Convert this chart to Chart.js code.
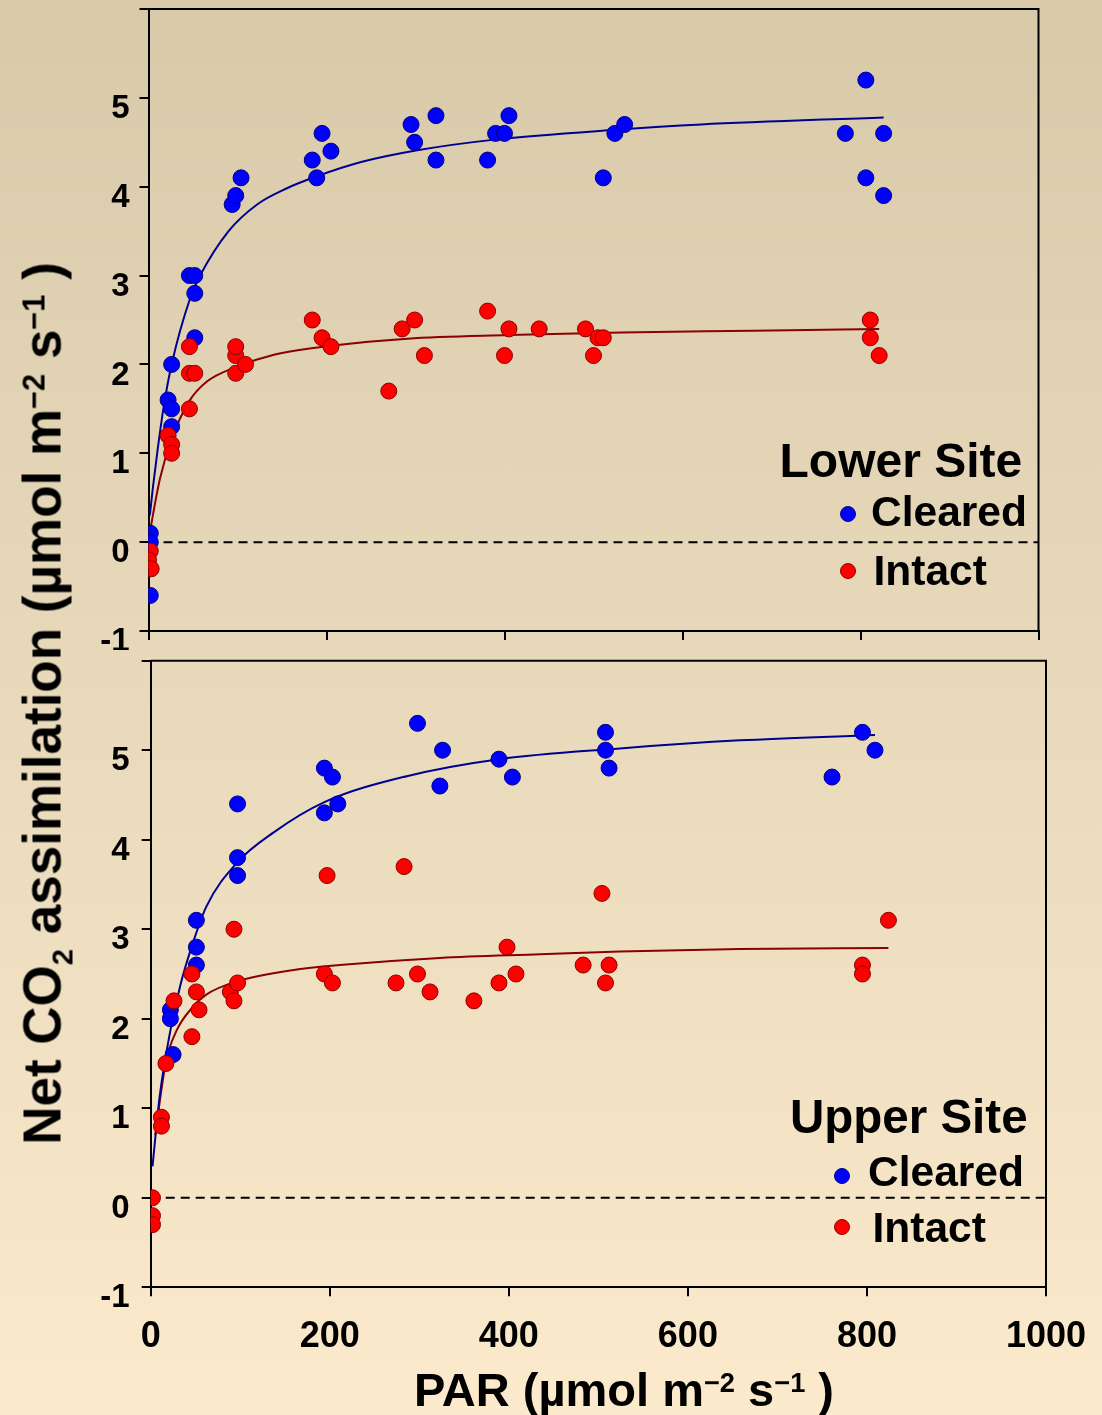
<!DOCTYPE html>
<html>
<head>
<meta charset="utf-8">
<script src="https://cdn.jsdelivr.net/npm/chart.js@4.4.1/dist/chart.umd.min.js"></script>
<style>
html,body{margin:0;padding:0;}
body{width:1102px;height:1415px;position:relative;overflow:hidden;
  background:linear-gradient(to bottom,#d8caa9 0%,#e6d8b9 45%,#fbeacb 100%);
  font-family:"Liberation Sans",Arial,Helvetica,sans-serif;font-weight:bold;color:#000;}
canvas{position:absolute;left:0;}
.t{position:absolute;white-space:nowrap;line-height:1;}
.sup{font-size:.58em;position:relative;top:-.52em;line-height:0;}
.sub{font-size:.55em;position:relative;top:.41em;line-height:0;}
.dot{position:absolute;width:16px;height:16px;border-radius:50%;box-sizing:border-box;border:1px solid;}
</style>
</head>
<body>
<canvas id="c1" width="1102" height="650" style="top:0;width:1102px;height:650px"></canvas>
<canvas id="c2" width="1102" height="765" style="top:650px;width:1102px;height:765px"></canvas>

<div class="t" id="ytitle" style="font-size:53px;width:1000px;height:53px;left:-458.4px;top:676.5px;text-align:center;transform:rotate(-90deg);transform-origin:50% 50%;">Net CO<span class="sub">2</span> assimilation (µmol m<span class="sup">−2</span> s<span class="sup">−1</span> )</div>
<div class="t" style="font-size:47px;width:700px;left:274px;top:1366.2px;text-align:center;">PAR (µmol m<span class="sup">−2</span> s<span class="sup">−1</span> )</div>

<div class="t" style="font-size:48px;left:779.5px;top:437.4px;">Lower Site</div>
<div class="dot" style="left:839.7px;top:506.3px;background:#0000ff;border-color:#000080;"></div>
<div class="t" style="font-size:42.5px;left:871px;top:491px;">Cleared</div>
<div class="dot" style="left:839.7px;top:562.7px;background:#ff0000;border-color:#8b0000;"></div>
<div class="t" style="font-size:42.5px;left:873.5px;top:549.7px;">Intact</div>

<div class="t" style="font-size:47.5px;left:790px;top:1092.8px;">Upper Site</div>
<div class="dot" style="left:834.3px;top:1167.7px;background:#0000ff;border-color:#000080;"></div>
<div class="t" style="font-size:42.5px;left:868px;top:1151px;">Cleared</div>
<div class="dot" style="left:834.3px;top:1218.7px;background:#ff0000;border-color:#8b0000;"></div>
<div class="t" style="font-size:42.5px;left:872.5px;top:1207px;">Intact</div>

<script>
// ---------- Data ----------
// Lower site
const lowerClearedPAR = [2,2,2,22,26,26,26,52,52,46,52,94,98,104,184,189,195,205,295,299,323,323,381,390,400,405,511,524,535,783,806,806,826,826];
const lowerClearedA   = [0.1,0.0,-0.6,1.6,1.5,1.3,2.0,2.3,2.8,3.0,3.0,3.8,3.9,4.1,4.3,4.1,4.6,4.4,4.7,4.5,4.8,4.3,4.3,4.6,4.6,4.8,4.1,4.6,4.7,4.6,5.2,4.1,4.6,3.9];
const lowerIntactPAR  = [2,0,3,22,26,26,46,46,52,46,98,98,98,109,184,195,205,270,285,299,310,381,400,405,439,491,500,505,511,811,811,821];
const lowerIntactA    = [-0.1,-0.2,-0.3,1.2,1.1,1.0,1.5,1.9,1.9,2.2,1.9,2.1,2.2,2.0,2.5,2.3,2.2,1.7,2.4,2.5,2.1,2.6,2.1,2.4,2.4,2.4,2.1,2.3,2.3,2.5,2.3,2.1];
const lowerClearedFitPAR = [1.5,5,10,17,26,47,58,90,122,155,190,240,302,389,524,621,826];
const lowerClearedFitA   = [0.3,0.62,1.02,1.52,2.0,2.75,3.0,3.5,3.8,3.98,4.12,4.28,4.41,4.53,4.64,4.7,4.78];
const lowerIntactFitPAR  = [0,4,13,26,46,66,98,141,205,291,404,531,680,821];
const lowerIntactFitA    = [0,0.25,0.72,1.16,1.59,1.81,1.97,2.11,2.21,2.29,2.33,2.36,2.38,2.40];

// Upper site
const upperClearedPAR = [22,22,25,51,51,51,97,97,97,194,203,194,209,298,326,323,389,404,508,508,512,795,809,761];
const upperClearedA   = [2.1,2.0,1.6,3.1,2.8,2.6,4.4,3.8,3.6,4.8,4.7,4.3,4.4,5.3,5.0,4.6,4.9,4.7,5.2,5.0,4.8,5.2,5.0,4.7];
const upperIntactPAR  = [2,2,2,12,12,17,26,46,46,51,54,93,89,97,93,197,194,203,283,274,298,312,361,389,398,408,483,504,508,512,795,795,824];
const upperIntactA    = [0,-0.2,-0.3,0.9,0.8,1.5,2.2,1.8,2.5,2.3,2.1,3.0,2.3,2.4,2.2,3.6,2.5,2.4,3.7,2.4,2.5,2.3,2.2,2.4,2.8,2.5,2.6,3.4,2.4,2.6,2.6,2.5,3.1];
const upperClearedFitPAR = [2,10,22,33,44,62,97,137,194,286,389,524,658,809];
const upperClearedFitA   = [0.35,1.13,1.87,2.37,2.75,3.25,3.75,4.08,4.42,4.71,4.9,5.02,5.11,5.17];
const upperIntactFitPAR  = [5,17,29,46,62,97,156,211,323,435,524,658,824];
const upperIntactFitA    = [0.7,1.52,1.87,2.12,2.27,2.42,2.54,2.60,2.68,2.72,2.75,2.78,2.79];

// Axis ticks
const xTicks = [0,200,400,600,800,1000];
const xTickLabels = ['0','200','400','600','800','1000'];
const yTicks = [-1,0,1,2,3,4,5,6];
const yTickLabels = ['-1','0','1','2','3','4','5',''];

// ---------- Helpers ----------
const FONT = "'Liberation Sans', Arial, Helvetica, sans-serif";
Chart.defaults.font.family = FONT;
const pts = (xs, ys) => xs.map((x, i) => ({x: x, y: ys[i]}));

const framePlugin = {
  id: 'frame',
  beforeDatasetsDraw(chart) {
    const {ctx, chartArea: a, scales} = chart;
    const y0 = scales.y.getPixelForValue(0);
    ctx.save();
    ctx.strokeStyle = '#000';
    ctx.lineWidth = 2;
    ctx.setLineDash([9, 6]);
    ctx.beginPath();
    ctx.moveTo(a.left, y0);
    ctx.lineTo(a.right, y0);
    ctx.stroke();
    ctx.restore();
  },
  afterDraw(chart) {
    const {ctx, chartArea: a} = chart;
    ctx.save();
    ctx.strokeStyle = '#000';
    ctx.lineWidth = 2;
    ctx.beginPath();
    ctx.moveTo(a.left, a.top);
    ctx.lineTo(a.right, a.top);
    ctx.lineTo(a.right, a.bottom);
    ctx.stroke();
    ctx.restore();
  }
};

function makePanel(id, o) {
  return new Chart(document.getElementById(id), {
    type: 'scatter',
    data: {
      datasets: [
        {type: 'line', data: pts(o.cfx, o.cfy), borderColor: '#000090', borderWidth: 2,
         pointRadius: 0, cubicInterpolationMode: 'monotone', fill: false, order: 3},
        {type: 'line', data: pts(o.ifx, o.ify), borderColor: '#8b0000', borderWidth: 2,
         pointRadius: 0, cubicInterpolationMode: 'monotone', fill: false, order: 3},
        {data: pts(o.cx, o.cy), backgroundColor: '#0000ff', borderColor: '#000080', borderWidth: 1,
         pointRadius: 8, order: 2},
        {data: pts(o.ix, o.iy), backgroundColor: '#ff0000', borderColor: '#8b0000', borderWidth: 1,
         pointRadius: 8, order: 1}
      ]
    },
    options: {
      responsive: false,
      animation: false,
      devicePixelRatio: 1,
      layout: {padding: {left: 0, top: o.padTop, right: o.padRight, bottom: 0}},
      plugins: {legend: {display: false}, tooltip: {enabled: false}},
      events: [],
      scales: {
        x: {
          type: 'linear', min: 0, max: 1000,
          afterBuildTicks(s) { s.ticks = xTicks.map(v => ({value: v})); },
          ticks: {display: o.showX, color: '#000', padding: 19, maxRotation: 0, autoSkip: false,
                  callback: (v) => xTickLabels[xTicks.indexOf(v)],
                  font: {size: 36, weight: 'bold', family: FONT}},
          grid: {drawOnChartArea: false, drawTicks: true, tickLength: 9, color: '#000', lineWidth: 2},
          border: {display: true, color: '#000', width: 2},
          afterFit(s) { s.height = o.xHeight; s.paddingLeft = 0; s.paddingRight = 0; }
        },
        y: {
          type: 'linear', min: -1, max: 6,
          afterBuildTicks(s) { s.ticks = yTicks.map(v => ({value: v})); },
          ticks: {color: '#000', padding: o.yPad, labelOffset: 11, autoSkip: false,
                  callback: (v) => yTickLabels[yTicks.indexOf(v)],
                  font: {size: 33, weight: 'bold', family: FONT}},
          grid: {drawOnChartArea: false, drawTicks: true, tickLength: 9, color: '#000', lineWidth: 2},
          border: {display: true, color: '#000', width: 2},
          afterFit(s) { s.width = o.yWidth; s.paddingTop = 0; s.paddingBottom = 0; }
        }
      }
    },
    plugins: [framePlugin]
  });
}

makePanel('c1', {
  cx: lowerClearedPAR, cy: lowerClearedA, ix: lowerIntactPAR, iy: lowerIntactA,
  cfx: lowerClearedFitPAR, cfy: lowerClearedFitA, ifx: lowerIntactFitPAR, ify: lowerIntactFitA,
  padTop: 9, padRight: 63.5, yWidth: 148.5, xHeight: 19, showX: false, yPad: 10
});
makePanel('c2', {
  cx: upperClearedPAR, cy: upperClearedA, ix: upperIntactPAR, iy: upperIntactA,
  cfx: upperClearedFitPAR, cfy: upperClearedFitA, ifx: upperIntactFitPAR, ify: upperIntactFitA,
  padTop: 10.7, padRight: 56, yWidth: 150.7, xHeight: 127.7, showX: true, yPad: 12
});
</script>
</body>
</html>
